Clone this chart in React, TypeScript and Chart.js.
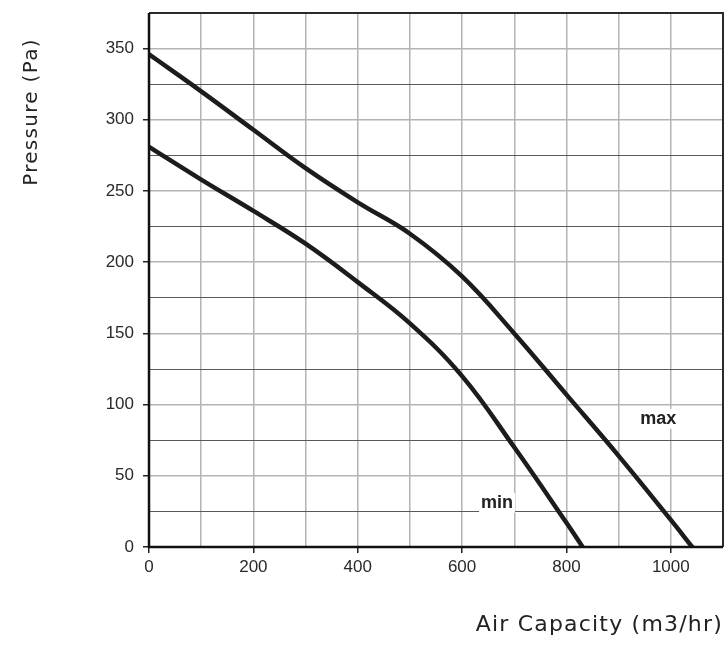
import React, { useEffect, useRef } from "react";
import { Chart, registerables } from "chart.js";

Chart.register(...registerables);

const maxCapacity = [0, 100, 200, 300, 400, 500, 600, 700, 800, 900, 1000, 1041];
const maxPressure = [346, 320, 293, 266, 242, 220, 190, 150, 107, 64, 19, 0];
const minCapacity = [0, 100, 200, 300, 400, 500, 600, 700, 800, 831];
const minPressure = [281, 258, 236, 213, 186, 157, 120, 70, 17, 0];

const seriesLabels = ["max", "min"];
const labelPositions = [
  { x: 976, y: 90 },
  { x: 667, y: 31 },
];
const xTitle = "Air Capacity (m3/hr)";
const yTitle = "Pressure (Pa)";

const toPoints = (xs: number[], ys: number[]) => xs.map((x, i) => ({ x, y: ys[i] }));

export default function App() {
  const ref = useRef<HTMLCanvasElement | null>(null);

  useEffect(() => {
    document.body.style.margin = "0";
    const canvas = ref.current;
    if (!canvas) return;

    const overlay = {
      id: "overlay",
      afterDatasetsDraw(chart: any) {
        const { ctx, chartArea, scales } = chart;
        ctx.save();
        ctx.strokeStyle = "#2a2a2a";
        ctx.lineWidth = 2;
        ctx.beginPath();
        ctx.moveTo(chartArea.left, chartArea.top);
        ctx.lineTo(chartArea.right, chartArea.top);
        ctx.lineTo(chartArea.right, chartArea.bottom);
        ctx.stroke();
        ctx.strokeStyle = "#111";
        ctx.lineWidth = 2.5;
        ctx.beginPath();
        ctx.moveTo(chartArea.left, chartArea.top);
        ctx.lineTo(chartArea.left, chartArea.bottom);
        ctx.lineTo(chartArea.right, chartArea.bottom);
        ctx.stroke();

        ctx.font = "bold 18px 'Liberation Sans', Arial, sans-serif";
        ctx.textAlign = "center";
        ctx.textBaseline = "middle";
        seriesLabels.forEach((lab, i) => {
          const px = scales.x.getPixelForValue(labelPositions[i].x);
          const py = scales.y.getPixelForValue(labelPositions[i].y);
          const w = ctx.measureText(lab).width;
          ctx.fillStyle = "#fff";
          ctx.fillRect(px - w / 2 - 2, py - 10, w + 4, 20);
          ctx.fillStyle = "#222";
          ctx.fillText(lab, px, py);
        });

        ctx.fillStyle = "#222";
        ctx.font = "20px 'DejaVu Sans', sans-serif";
        (ctx as any).letterSpacing = "1.3px";
        ctx.save();
        ctx.translate(32, 112);
        ctx.rotate(-Math.PI / 2);
        ctx.textAlign = "center";
        ctx.textBaseline = "middle";
        ctx.fillText(yTitle, 0, 0);
        ctx.restore();

        ctx.font = "22px 'DejaVu Sans', sans-serif";
        (ctx as any).letterSpacing = "1.2px";
        ctx.textAlign = "right";
        ctx.textBaseline = "alphabetic";
        ctx.fillText(xTitle, 723, 631);
        ctx.restore();
      },
    };

    const lineStyle = {
      borderColor: "#1c1c1c",
      borderWidth: 4.5,
      pointRadius: 0,
      showLine: true,
      fill: false,
      tension: 0.4,
      borderCapStyle: "round" as const,
    };

    const chart = new Chart(canvas, {
      type: "scatter",
      data: {
        datasets: [
          { label: seriesLabels[0], data: toPoints(maxCapacity, maxPressure), ...lineStyle },
          { label: seriesLabels[1], data: toPoints(minCapacity, minPressure), ...lineStyle },
        ],
      },
      options: {
        responsive: false,
        animation: false,
        devicePixelRatio: 1,
        layout: { padding: { top: 13, right: 3, left: 0, bottom: 0 } },
        plugins: {
          legend: { display: false },
          tooltip: { enabled: false },
          title: { display: false },
        },
        scales: {
          x: {
            type: "linear",
            min: 0,
            max: 1100,
            afterFit: (s: any) => {
              s.height = 115;
              s.paddingLeft = 0;
              s.paddingRight = 0;
            },
            ticks: {
              stepSize: 100,
              autoSkip: false,
              maxRotation: 0,
              padding: 4,
              color: "#2a2a2a",
              font: { family: "'Liberation Sans', Arial, sans-serif", size: 17 },
              callback: (v: any) => (Number(v) % 200 === 0 ? String(v) : ""),
            },
            grid: {
              color: "#b4b4b4",
              lineWidth: 1.5,
              drawTicks: true,
              tickLength: 6,
              tickColor: (c: any) => (c.tick && c.tick.value % 200 === 0 ? "#222" : "rgba(0,0,0,0)"),
              tickWidth: 1.5,
            },
            border: { display: false },
          },
          y: {
            type: "linear",
            min: 0,
            max: 375,
            afterFit: (s: any) => {
              s.width = 149;
              s.paddingTop = 0;
              s.paddingBottom = 0;
            },
            ticks: {
              stepSize: 25,
              autoSkip: false,
              padding: 9,
              color: "#2a2a2a",
              font: { family: "'Liberation Sans', Arial, sans-serif", size: 17 },
              callback: (v: any) => (Number(v) % 50 === 0 ? String(v) : ""),
            },
            grid: {
              color: (c: any) => (c.tick && c.tick.value % 50 === 0 ? "#b4b4b4" : "#5a5a5a"),
              lineWidth: (c: any) => (c.tick && c.tick.value % 50 === 0 ? 1.5 : 1),
              drawTicks: true,
              tickLength: 6,
              tickColor: (c: any) => (c.tick && c.tick.value % 50 === 0 ? "#222" : "rgba(0,0,0,0)"),
              tickWidth: 1.5,
            },
            border: { display: false },
          },
        },
      },
      plugins: [overlay],
    });

    return () => chart.destroy();
  }, []);

  return (
    <div style={{ position: "absolute", left: 0, top: 0, width: 726, height: 662 }}>
      <canvas ref={ref} width={726} height={662} style={{ display: "block", width: 726, height: 662 }} />
    </div>
  );
}
